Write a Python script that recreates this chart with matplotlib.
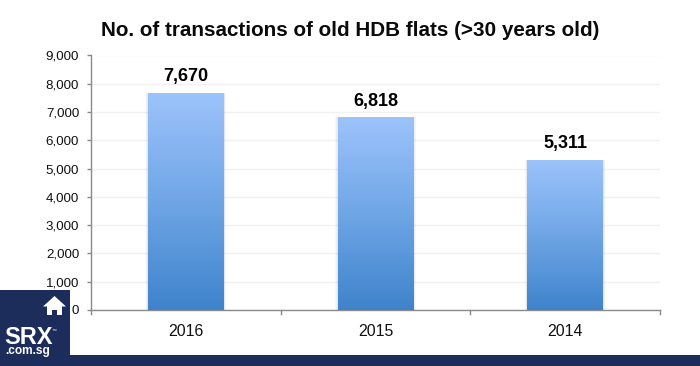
import numpy as np
import matplotlib
matplotlib.use("Agg")
import matplotlib.pyplot as plt
from matplotlib.colors import LinearSegmentedColormap
from matplotlib.patches import Rectangle, Polygon

years = ["2016", "2015", "2014"]
transactions = [7670, 6818, 5311]
y_ticks = [0, 1000, 2000, 3000, 4000, 5000, 6000, 7000, 8000, 9000]
title = "No. of transactions of old HDB flats (>30 years old)"

W, H = 700, 366
plt.rcParams['font.family'] = ['Liberation Sans', 'DejaVu Sans']
fig = plt.figure(figsize=(W/100, H/100), dpi=100, facecolor='white')
L, R, T, B = 91, 660, 55.5, 310
ax = fig.add_axes([L/W, 1-B/H, (R-L)/W, (B-T)/H])
ax.set_xlim(-0.5, 2.5)
ax.set_ylim(0, 9000)

cmap = LinearSegmentedColormap.from_list("bar", ["#3F83CB", "#6FA6E6", "#9DC3FB"])
grad = np.linspace(0, 1, 256).reshape(-1, 1)
bars = ax.bar(range(3), transactions, width=0.4, color="#6FA6E6", zorder=3)
for b in bars:
    x0, w, h = b.get_x(), b.get_width(), b.get_height()
    for i in range(1, 4):
        ax.add_patch(Rectangle((x0-0.004*i, 0), w+0.008*i, h, fc='#000000', alpha=0.03, ec='none', zorder=2))
    im = ax.imshow(grad, extent=(x0, x0+w, 0, h), origin='lower', aspect='auto', cmap=cmap, zorder=4)
    im.set_clip_path(b)
ax.set_xlim(-0.5, 2.5)
ax.set_ylim(0, 9000)

for i, v in enumerate(transactions):
    ax.text(i, v+270, f"{v:,}", ha='center', va='bottom', fontsize=13, fontweight='bold', color='black', zorder=5)

ax.set_yticks(y_ticks)
ax.set_yticklabels([f"{t:,}" for t in y_ticks], fontsize=9.6, color='#111111')
ax.set_xticks([0, 1, 2])
ax.set_xticklabels(years, fontsize=11.4, color='#111111')
ax.tick_params(axis='x', length=0, pad=10)
ax.tick_params(axis='y', length=3, width=1, color='#8A8A8A', pad=5.5)
for x in [-0.5, 0.5, 1.5, 2.5]:
    ax.plot([x, x], [0, -0.016], transform=ax.get_xaxis_transform(), color='#8A8A8A', lw=1, clip_on=False)
ax.grid(axis='y', color='#F1F1F1', lw=1, zorder=0)
ax.set_axisbelow(True)
for s in ['top', 'right']:
    ax.spines[s].set_visible(False)
for s in ['left', 'bottom']:
    ax.spines[s].set_color('#8A8A8A')
    ax.spines[s].set_linewidth(1)

fig.text(350/W, 1-30/H, title, ha='center', va='center', fontsize=14.85, fontweight='bold', color='#0A0A0A')

# Branding overlay in pixel coordinates
ov = fig.add_axes([0, 0, 1, 1], facecolor='none')
ov.set_xlim(0, W); ov.set_ylim(H, 0); ov.axis('off')
navy = '#1C2C5B'
ov.add_patch(Rectangle((0, 290), 69.5, 76, fc=navy, ec='none'))
ov.add_patch(Rectangle((0, 355), W, 11, fc=navy, ec='none'))
ov.add_patch(Polygon([(43, 306.5), (54.5, 296), (66, 306.5)], fc='white', ec='none'))
ov.add_patch(Polygon([(47, 306), (62, 306), (62, 315), (57, 315), (57, 310), (52, 310), (52, 315), (47, 315)], fc='white', ec='none'))
ov.text(4.5, 344, "SRX", fontsize=17, fontweight='bold', color='white', ha='left', va='baseline')
ov.text(52, 331, "™", fontsize=3.5, color='white', ha='left', va='baseline')
ov.text(5, 354, ".com.sg", fontsize=8.6, fontweight='bold', color='white', ha='left', va='baseline')

fig.savefig("out.png", dpi=100, facecolor='white')
